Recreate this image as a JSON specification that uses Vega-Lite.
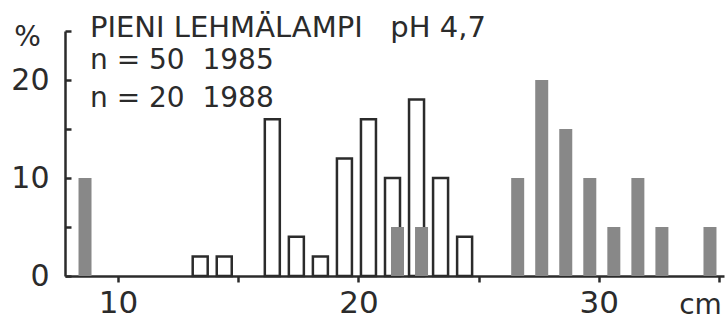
{
  "$schema": "https://vega.github.io/schema/vega-lite/v6.json",
  "width": 659,
  "height": 245,
  "autosize": "none",
  "padding": {"left": 65, "top": 31, "right": 3, "bottom": 45},
  "background": "white",
  "config": {
    "view": {"stroke": null},
    "font": "DejaVu Sans",
    "axis": {"grid": false, "domainColor": "#2b2b2b", "domainWidth": 2.5, "tickColor": "#2b2b2b", "tickWidth": 2.5, "labelColor": "#2b2b2b", "titleColor": "#2b2b2b", "labelFont": "DejaVu Sans", "titleFont": "DejaVu Sans", "titleFontWeight": "normal"}
  },
  "title": {
    "text": "PIENI LEHMÄLAMPI\u00a0\u00a0\u00a0pH 4,7",
    "subtitle": ["n = 50\u00a0\u00a01985", "n = 20\u00a0\u00a01988"],
    "anchor": "start",
    "frame": "group",
    "orient": "top",
    "offset": -97,
    "dx": 25,
    "font": "DejaVu Sans",
    "fontSize": 29,
    "fontWeight": "normal",
    "color": "#2b2b2b",
    "subtitleFont": "DejaVu Sans",
    "subtitleFontSize": 28,
    "subtitleColor": "#2b2b2b",
    "subtitleLineHeight": 38,
    "subtitlePadding": 4
  },
  "data": {
    "values": [
      {"cm": 13.5, "year": "1985", "pct": 2},
      {"cm": 14.5, "year": "1985", "pct": 2},
      {"cm": 16.5, "year": "1985", "pct": 16},
      {"cm": 17.5, "year": "1985", "pct": 4},
      {"cm": 18.5, "year": "1985", "pct": 2},
      {"cm": 19.5, "year": "1985", "pct": 12},
      {"cm": 20.5, "year": "1985", "pct": 16},
      {"cm": 21.5, "year": "1985", "pct": 10},
      {"cm": 22.5, "year": "1985", "pct": 18},
      {"cm": 23.5, "year": "1985", "pct": 10},
      {"cm": 24.5, "year": "1985", "pct": 4},
      {"cm": 8.5, "year": "1988", "pct": 10},
      {"cm": 21.5, "year": "1988", "pct": 5},
      {"cm": 22.5, "year": "1988", "pct": 5},
      {"cm": 26.5, "year": "1988", "pct": 10},
      {"cm": 27.5, "year": "1988", "pct": 20},
      {"cm": 28.5, "year": "1988", "pct": 15},
      {"cm": 29.5, "year": "1988", "pct": 10},
      {"cm": 30.5, "year": "1988", "pct": 5},
      {"cm": 31.5, "year": "1988", "pct": 10},
      {"cm": 32.5, "year": "1988", "pct": 5},
      {"cm": 34.5, "year": "1988", "pct": 5}
    ]
  },
  "encoding": {
    "x": {
      "field": "cm", "type": "quantitative",
      "scale": {"domain": [8, 35], "nice": false, "zero": false},
      "axis": {
        "values": [10, 15, 20, 25, 30, 35],
        "labelExpr": "datum.value % 10 === 0 ? datum.label : ''",
        "tickSize": 6, "labelFontSize": 31, "labelPadding": 6, "labelFlush": false, "labelOverlap": false,
        "title": "cm", "titleFontSize": 28, "titleAngle": 0, "titleX": 635, "titleY": 37, "titleBaseline": "alphabetic", "titleAlign": "center"
      }
    },
    "y": {
      "field": "pct", "type": "quantitative", "stack": null,
      "scale": {"domain": [0, 25], "nice": false},
      "axis": {
        "values": [0, 5, 10, 15, 20, 25],
        "labelExpr": "datum.value % 10 === 0 ? datum.label : ''",
        "tickSize": -6, "labelFontSize": 30, "labelPadding": 22, "labelOverlap": false,
        "title": "%", "titleFontSize": 28, "titleAngle": 0, "titleX": -38, "titleY": 6, "titleBaseline": "middle", "titleAlign": "center"
      }
    }
  },
  "layer": [
    {
      "transform": [{"filter": "datum.year === '1985'"}],
      "mark": {"type": "bar", "orient": "vertical", "width": 15, "xOffset": -2, "fill": "white", "stroke": "#2b2b2b", "strokeWidth": 2.5}
    },
    {
      "transform": [{"filter": "datum.year === '1988'"}],
      "mark": {"type": "bar", "orient": "vertical", "width": 13, "xOffset": 3, "fill": "#888888", "stroke": null}
    }
  ]
}
